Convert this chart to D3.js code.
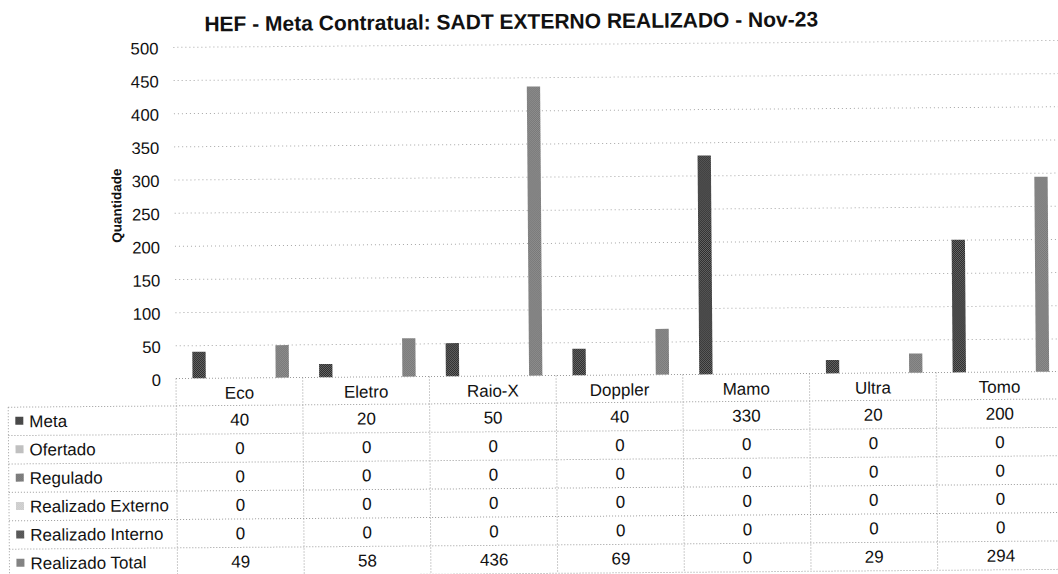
<!DOCTYPE html>
<html>
<head>
<meta charset="utf-8">
<script src="https://cdn.jsdelivr.net/npm/d3@7"></script>
<style>
  html, body { margin: 0; padding: 0; background: #fff; }
  svg { display: block; font-family: "Liberation Sans", Arial, sans-serif; }
</style>
</head>
<body>
<svg id="chart" width="1058" height="574"></svg>
<script>
// ---- data ----
const categories = ["Eco", "Eletro", "Raio-X", "Doppler", "Mamo", "Ultra", "Tomo"];
const seriesNames = ["Meta", "Ofertado", "Regulado", "Realizado Externo", "Realizado Interno", "Realizado Total"];
const meta = [40, 20, 50, 40, 330, 20, 200];
const ofertado = [0, 0, 0, 0, 0, 0, 0];
const regulado = [0, 0, 0, 0, 0, 0, 0];
const realizadoExterno = [0, 0, 0, 0, 0, 0, 0];
const realizadoInterno = [0, 0, 0, 0, 0, 0, 0];
const realizadoTotal = [49, 58, 436, 69, 0, 29, 294];
const yTicks = [0, 50, 100, 150, 200, 250, 300, 350, 400, 450, 500];
const titleText = "HEF - Meta Contratual: SADT EXTERNO REALIZADO - Nov-23";
const yTitle = "Quantidade";

const seriesValues = [meta, ofertado, regulado, realizadoExterno, realizadoInterno, realizadoTotal];

// ---- styling ----
const colorsA = ["#2a2a2a", "#a8a8a8", "#5a5a5a", "#bdbdbd", "#383838", "#5e5e5e"];
const colorsB = ["#686868", "#d8d8d8", "#a0a0a0", "#e2e2e2", "#7a7a7a", "#a8a8a8"];

const svg = d3.select("#chart");
const defs = svg.append("defs");
seriesNames.forEach((s, i) => {
  const p = defs.append("pattern").attr("id", "pat" + i)
    .attr("width", 2).attr("height", 2).attr("patternUnits", "userSpaceOnUse");
  p.append("rect").attr("width", 2).attr("height", 2).attr("fill", colorsB[i]);
  p.append("rect").attr("width", 1).attr("height", 1).attr("fill", colorsA[i]);
  p.append("rect").attr("x", 1).attr("y", 1).attr("width", 1).attr("height", 1).attr("fill", colorsA[i]);
});

const root = svg.append("g").attr("transform", "rotate(-0.45,200,380)");

const left = 176, band = 126.7;
const right = left + band * categories.length;
const x0 = d3.scaleBand().domain(categories).range([left, right]).padding(0);
const x1 = d3.scaleBand().domain(seriesNames).range([16.5, 113]).paddingInner(0.2);
const y = d3.scaleLinear().domain([0, 500]).range([378.3, 46.7]);

// gridlines
const grid = root.append("g").attr("transform", `translate(${left},0)`)
  .call(d3.axisLeft(y).tickValues(yTicks.filter(v => v > 0)).tickSize(-(right - left)).tickFormat(""));
grid.select(".domain").remove();
grid.selectAll("line").attr("stroke", "#a6a6a6").attr("stroke-dasharray", "1,3").attr("stroke-width", 1);

// y tick labels
const yAx = root.append("g").attr("transform", "translate(161,1.5)")
  .call(d3.axisLeft(y).tickValues(yTicks).tickSize(0).tickPadding(0));
yAx.select(".domain").remove();
yAx.selectAll("text").attr("font-size", 16.7).attr("fill", "#111").attr("font-family", "Liberation Sans, Arial, sans-serif");

// y title
root.append("text").attr("transform", "translate(118,205) rotate(-90)")
  .attr("text-anchor", "middle").attr("dy", "0.35em")
  .attr("font-size", 13.5).attr("font-weight", "bold").attr("fill", "#111").text(yTitle);

// title
root.append("text").attr("x", 514).attr("y", 31.3).attr("text-anchor", "middle")
  .attr("font-size", 21).attr("font-weight", "bold").attr("fill", "#111").text(titleText);

// bars
const barData = [];
categories.forEach((c, ci) => seriesNames.forEach((s, si) => barData.push({c, s, si, v: seriesValues[si][ci]})));
root.append("g").selectAll("rect").data(barData.filter(d => d.v > 0)).join("rect")
  .attr("x", d => x0(d.c) + x1(d.s))
  .attr("y", d => y(d.v))
  .attr("width", x1.bandwidth())
  .attr("height", d => y(0) - y(d.v))
  .attr("fill", d => `url(#pat${d.si})`);

// data table
const rowTop = 405.7, rowH = 28.4, tableLeft = 8, fs = 17;
const tableBottom = rowTop + rowH * seriesNames.length;
const tbl = root.append("g");
const lineStyle = sel => sel.attr("stroke", "#9a9a9a").attr("stroke-width", 1).attr("stroke-dasharray", "1,2");

// horizontal lines
tbl.append("line").attr("x1", left).attr("x2", right).attr("y1", y(0)).attr("y2", y(0)).call(lineStyle);
d3.range(seriesNames.length + 1).forEach(i => {
  tbl.append("line").attr("x1", tableLeft).attr("x2", right)
    .attr("y1", rowTop + i * rowH).attr("y2", rowTop + i * rowH).call(lineStyle);
});
// vertical lines
tbl.append("line").attr("x1", tableLeft).attr("x2", tableLeft).attr("y1", rowTop).attr("y2", tableBottom).call(lineStyle);
categories.forEach(c => {
  tbl.append("line").attr("x1", x0(c)).attr("x2", x0(c)).attr("y1", y(0)).attr("y2", tableBottom).call(lineStyle);
});
tbl.append("line").attr("x1", right).attr("x2", right).attr("y1", y(0)).attr("y2", tableBottom).call(lineStyle);

// header labels
tbl.selectAll("text.cat").data(categories).join("text").attr("class", "cat")
  .attr("x", d => x0(d) + x0.bandwidth() / 2).attr("y", (y(0) + rowTop) / 2 + 1)
  .attr("dy", "0.35em").attr("text-anchor", "middle")
  .attr("font-size", fs).attr("fill", "#111").text(d => d);

// legend column
seriesNames.forEach((s, si) => {
  const cy = rowTop + si * rowH + rowH / 2;
  tbl.append("rect").attr("x", 15).attr("y", cy - 4.5).attr("width", 8).attr("height", 8)
    .attr("fill", `url(#pat${si})`);
  tbl.append("text").attr("x", 29).attr("y", cy).attr("dy", "0.35em")
    .attr("font-size", fs).attr("fill", "#111").text(s);
  tbl.append("g").selectAll("text").data(categories).join("text")
    .attr("x", d => x0(d) + x0.bandwidth() / 2).attr("y", cy).attr("dy", "0.35em")
    .attr("text-anchor", "middle").attr("font-size", fs).attr("fill", "#111")
    .text((d, ci) => seriesValues[si][ci]);
});
</script>
</body>
</html>
